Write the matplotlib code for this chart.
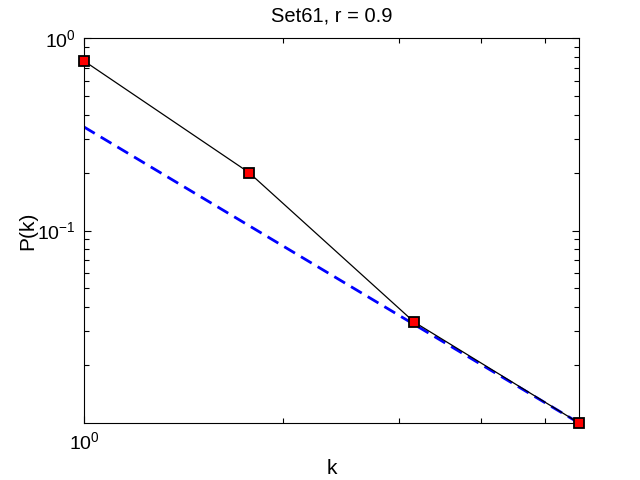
import matplotlib
matplotlib.use("Agg")
import matplotlib.pyplot as plt
from matplotlib.ticker import FixedLocator, NullFormatter, FixedFormatter

plt.rcParams['font.family'] = ['Liberation Sans', 'DejaVu Sans']
plt.rcParams['mathtext.fontset'] = 'custom'
plt.rcParams['mathtext.rm'] = 'Liberation Sans'
plt.rcParams['mathtext.it'] = 'Liberation Sans:italic'
plt.rcParams['mathtext.bf'] = 'Liberation Sans:bold'

# data
k = [1.0, 1.778, 3.162, 5.623]
pk = [0.76, 0.20, 0.0335, 0.0100]
fit_k = [1.0, 5.623]
fit_p = [0.345, 0.0100]

title = "Set61, r = 0.9"
xlabel = "k"
ylabel = "P(k)"
x_major = [1.0]
x_major_labels = [r"$\mathregular{10^{0}}$"]
x_minor = [2, 3, 4, 5]
y_major = [0.1, 1.0]
y_major_labels = [r"$\mathregular{10^{-1}}$", r"$\mathregular{10^{0}}$"]
y_minor = [m * 10.0**e for e in (-2, -1) for m in range(2, 10)]

fig = plt.figure(figsize=(6.4, 4.8), dpi=100)
fig.patch.set_facecolor('white')
ax = fig.add_axes([84/640, 57/480, 495/640, 385/480])

ax.loglog(fit_k, fit_p, color='#0000ff', linestyle=(0, (4.5, 2.5)), linewidth=2.0, zorder=2)
ax.loglog(k, pk, color='black', linewidth=0.9, marker='s', markersize=6.5,
          markerfacecolor='#ff0000', markeredgecolor='black', markeredgewidth=1.3,
          zorder=3, clip_on=False)

ax.set_xlim(1.0, 5.623)
ax.set_ylim(0.01, 1.0)

ax.xaxis.set_major_locator(FixedLocator(x_major))
ax.xaxis.set_major_formatter(FixedFormatter(x_major_labels))
ax.xaxis.set_minor_locator(FixedLocator(x_minor))
ax.xaxis.set_minor_formatter(NullFormatter())
ax.yaxis.set_major_locator(FixedLocator(y_major))
ax.yaxis.set_major_formatter(FixedFormatter(y_major_labels))
ax.yaxis.set_minor_locator(FixedLocator(y_minor))
ax.yaxis.set_minor_formatter(NullFormatter())

ax.tick_params(which='both', direction='in', top=True, right=True, width=0.8, colors='black')
ax.tick_params(which='major', length=5, labelsize=14, pad=6)
ax.tick_params(which='minor', length=3.5)
for s in ax.spines.values():
    s.set_linewidth(0.8)
    s.set_color('black')

ax.set_title(title, fontsize=14.5, pad=12)
ax.set_xlabel(xlabel, fontsize=15, labelpad=4)
ax.set_ylabel(ylabel, fontsize=15, labelpad=0)

fig.savefig("out.png", dpi=100, facecolor='white')
